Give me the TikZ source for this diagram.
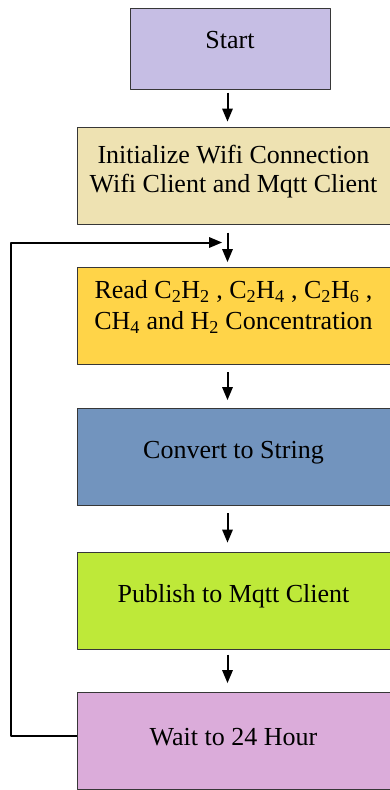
\documentclass[tikz,border=0pt]{standalone}
\usepackage{fontspec}
\setmainfont{Liberation Serif}
\usetikzlibrary{arrows}
\definecolor{startc}{RGB}{198,190,228}
\definecolor{initc}{RGB}{238,226,178}
\definecolor{readc}{RGB}{255,212,72}
\definecolor{convc}{RGB}{114,148,190}
\definecolor{pubc}{RGB}{190,233,57}
\definecolor{waitc}{RGB}{219,172,218}
\definecolor{boxline}{RGB}{55,55,55}

\begin{document}
\begin{tikzpicture}[x=1pt,y=1pt,line join=round,>=triangle 45,
  box/.style={draw=boxline,line width=1pt,fill=#1,align=center,inner sep=0pt,
    minimum width=313pt,minimum height=97pt,text depth=14pt,
    font=\fontsize{26}{29}\selectfont},
  flow/.style={->,line width=2pt}]
\useasboundingbox (0,0) rectangle (389,-790);
% process boxes, top to bottom
\node[box=startc,minimum width=200pt,minimum height=81pt,text depth=17pt] (start) at (230,-48.5) {Start};
\node[box=initc] (init) at (233.5,-175.5) {Initialize Wifi Connection\\Wifi Client and Mqtt Client};
\node[box=readc,text depth=22pt] (read) at (233.5,-316) {Read C\textsubscript{2}H\textsubscript{2} , C\textsubscript{2}H\textsubscript{4} , C\textsubscript{2}H\textsubscript{6} ,\\[2pt] CH\textsubscript{4} and H\textsubscript{2} Concentration};
\node[box=convc] (conv) at (233.5,-457) {Convert to String};
\node[box=pubc] (pub) at (233.5,-600.5) {Publish to Mqtt Client};
\node[box=waitc,text depth=8pt] (wait) at (233.5,-741) {Wait to 24 Hour};
\coordinate (axis) at (227.5,0);
\coordinate (loopin) at (222,-242.5);
% straight arrows
\draw[flow,shorten <=3pt,shorten >=5pt] (start.south -| axis) -- (init.north -| axis);
\draw[flow,shorten <=8pt,shorten >=5pt] (init.south -| axis) -- (read.north -| axis);
\draw[flow,shorten <=7pt,shorten >=8pt] (read.south -| axis) -- (conv.north -| axis);
\draw[flow,shorten <=7pt,shorten >=9pt] (conv.south -| axis) -- (pub.north -| axis);
\draw[flow,shorten <=5pt,shorten >=9pt] (pub.south -| axis) -- (wait.north -| axis);
% back loop
\draw[flow] ([yshift=5pt]wait.west) -- ++(-66,0) |- (loopin);
\end{tikzpicture}
\end{document}
